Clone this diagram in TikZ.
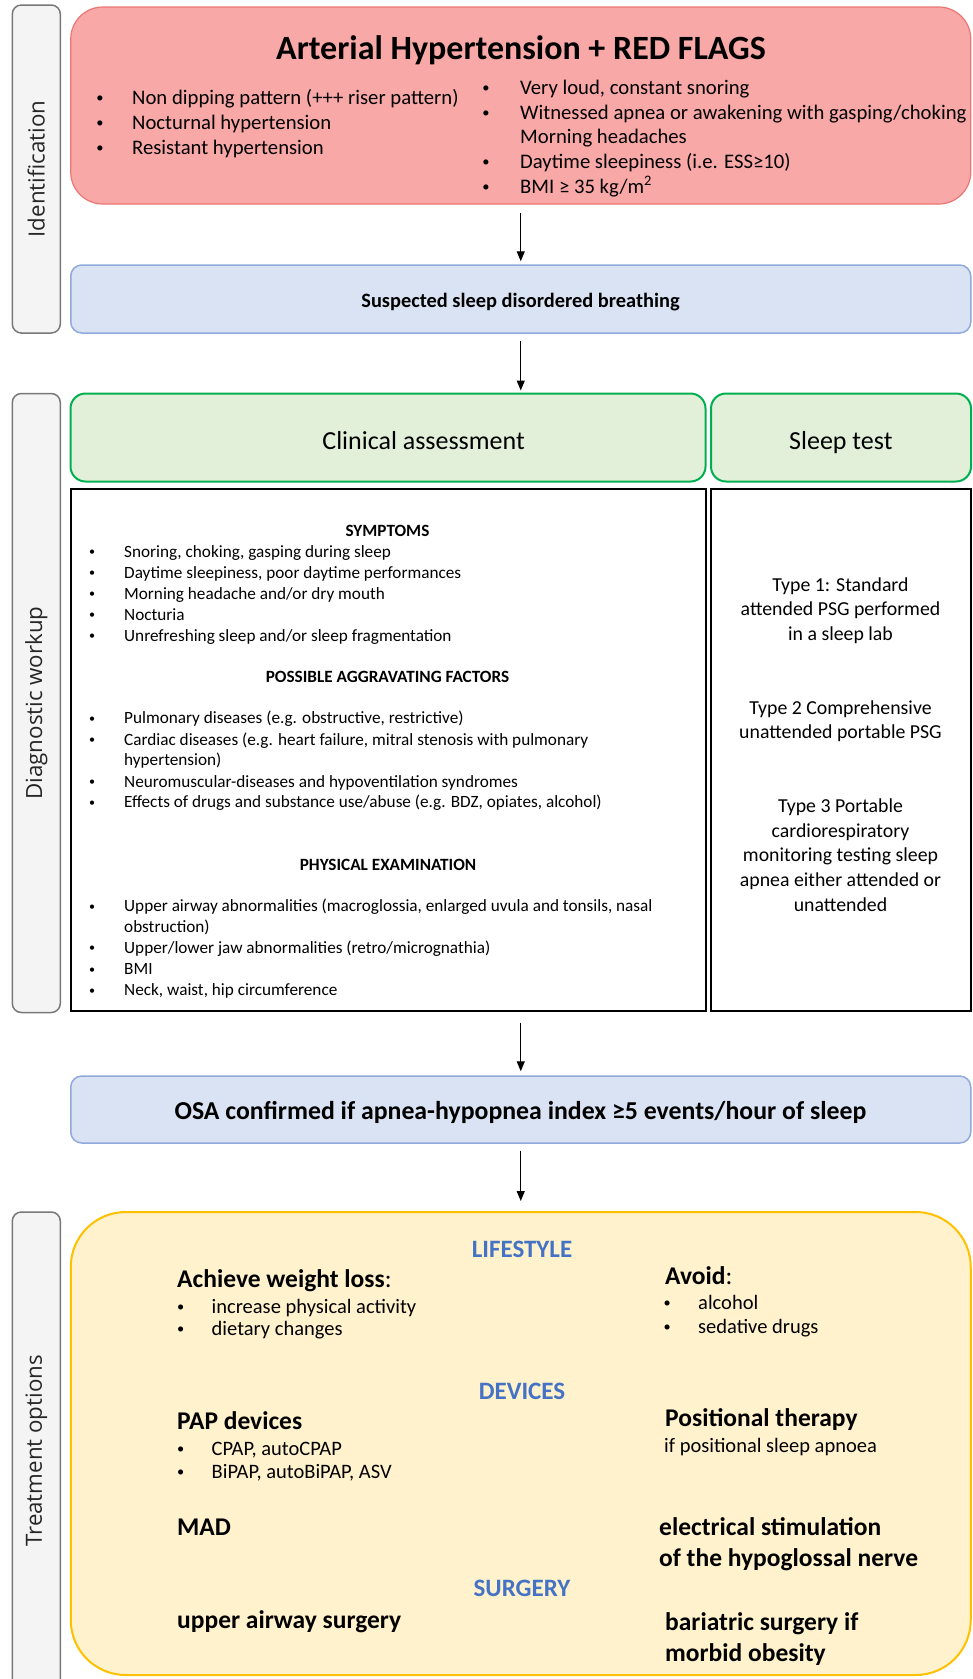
\documentclass[tikz,border=0pt]{standalone}
\usepackage{fontspec}
\setmainfont{Carlito}
\newfontfamily\sidefont{Open Sans}
\usepackage{xcolor}
\usetikzlibrary{arrows.meta,positioning}

\definecolor{flagfill}{RGB}{248,168,166}
\definecolor{flagline}{RGB}{236,118,116}
\definecolor{bluefill}{RGB}{218,227,243}
\definecolor{blueline}{RGB}{143,170,220}
\definecolor{greenfill}{RGB}{226,240,217}
\definecolor{greenline}{RGB}{0,176,80}
\definecolor{yellowfill}{RGB}{255,242,204}
\definecolor{yellowline}{RGB}{255,192,0}
\definecolor{headblue}{RGB}{68,114,196}
\definecolor{sidefill}{RGB}{244,244,244}
\definecolor{sideline}{RGB}{120,120,120}

\newcommand{\fsz}[1]{\fontsize{#1}{#1}\selectfont}
\newcommand{\blt}[1][28.5pt]{\llap{\raisebox{0.08em}{\scalebox{0.7}{\textbullet}}\hspace{#1}}}

\begin{document}
\begin{tikzpicture}[x=1pt, y=-1pt,
    sidebox/.style={draw=sideline, fill=sidefill, line width=1.5pt, rounded corners=9pt, minimum width=48pt},
    sidelabel/.style={rotate=90, inner sep=0pt, font=\sidefont\fsz{22.3}, text=black!85},
    flagbox/.style={draw=flagline, fill=flagfill, line width=1.2pt, rounded corners=32pt},
    bluebox/.style={draw=blueline, fill=bluefill, line width=1.5pt, rounded corners=11pt},
    greenbox/.style={draw=greenline, fill=greenfill, line width=2pt, rounded corners=15pt},
    listbox/.style={draw=black, fill=white, line width=2pt},
    treatbox/.style={draw=yellowline, fill=yellowfill, line width=2pt, rounded corners=55pt},
    flow/.style={-{Triangle[length=10pt,width=8pt]}, line width=1.2pt},
    txt/.style={inner sep=0pt, anchor=base west},
    ctr/.style={inner sep=0pt, anchor=base},
    head/.style={ctr, font=\bfseries\fsz{25}, text=headblue},
    big/.style={txt, font=\bfseries\fsz{25.5}}]

  \useasboundingbox (0,0) rectangle (973,1679);

  % side bars
  \node[sidebox, minimum height=328pt] (idside) at (36.3,169) {};
  \node[sidelabel] (idlabel) at (idside) {Identification};
  \node[sidebox, minimum height=619pt] (dxside) at (36.3,703) {};
  \node[sidelabel] (dxlabel) at (dxside) {Diagnostic workup};
  \node[sidebox, minimum height=478pt] (txside) at (36.3,1451) {};
  \node[sidelabel] (txlabel) at (txside) {Treatment options};

  % main boxes
  \node[flagbox, minimum width=900pt, minimum height=197pt] (flags) at (520.75,105.5) {};
  \node[bluebox, minimum width=900pt, minimum height=68pt] (susp) at (520.75,299) {};
  \node[greenbox, minimum width=635pt, minimum height=88pt] (clinhead) at (388,437.5) {};
  \node[greenbox, minimum width=260pt, minimum height=88pt] (testhead) at (841,437.5) {};
  \node[listbox, minimum width=635pt, minimum height=522pt] (clinbody) at (388,750) {};
  \node[listbox, minimum width=260pt, minimum height=522pt] (testbody) at (841,750) {};
  \node[bluebox, minimum width=900pt, minimum height=67pt] (osa) at (520.75,1109.5) {};
  \node[treatbox, minimum width=900pt, minimum height=463pt] (treat) at (520.75,1443.5) {};

  % arrows
  \draw[flow, shorten <=8pt, shorten >=3pt] (flags.south) -- (susp.north);
  \draw[flow, shorten <=7pt, shorten >=2pt] (susp.south) -- (susp.south |- clinhead.north);
  \draw[flow, shorten <=11pt, shorten >=4pt] (clinbody.south -| osa.south) -- (osa.north);
  \draw[flow, shorten <=7pt, shorten >=10pt] (osa.south) -- (treat.north);

  % red flags
  \node[ctr, font=\bfseries\fsz{34}] (title) at (521,59.5) {Arterial Hypertension + RED FLAGS};
  \foreach \y/\t [count=\i] in {104/{Non dipping pattern (+++ riser pattern)},
      129.5/{Nocturnal hypertension}, 154/{Resistant hypertension}}
    \node[txt, font=\fsz{20.7}] (flagl\i) at (132,\y) {\blt\t};
  \foreach \y/\t [count=\i] in {94/{\blt[30.5pt]Very loud, constant snoring},
      119/{\blt[30.5pt]Witnessed apnea or awakening with gasping/choking},
      143/{Morning headaches}, 168/{\blt[30.5pt]Daytime sleepiness (i.e. ESS≥10)},
      193/{\blt[30.5pt]BMI ≥ 35 kg/m\textsuperscript{2}}}
    \node[txt, font=\fsz{20.7}] (flagr\i) at (520,\y) {\t};

  \node[ctr, font=\bfseries\fsz{20.4}] (susptxt) at (520.5,307) {Suspected sleep disordered breathing};
  \node[ctr, font=\fsz{26}] (clintxt) at (423.6,449) {Clinical assessment};
  \node[ctr, font=\fsz{26}] (testtxt) at (840.8,449) {Sleep test};

  % clinical assessment
  \begin{scope}[every node/.append style={font=\fsz{17.2}}]
    \node[ctr, font=\bfseries\fsz{17.2}] (symhd) at (387.5,536.5) {SYMPTOMS};
    \foreach \y/\t [count=\i] in {557/{Snoring, choking, gasping during sleep},
        578.3/{Daytime sleepiness, poor daytime performances},
        599.3/{Morning headache and/or dry mouth}, 620/{Nocturia},
        641/{Unrefreshing sleep and/or sleep fragmentation}}
      \node[txt] (sym\i) at (124,\y) {\blt[29pt]\t};
    \node[ctr, font=\bfseries\fsz{17.2}] (aghd) at (387.5,682) {POSSIBLE AGGRAVATING FACTORS};
    \foreach \y/\t [count=\i] in {723.5/{\blt[29pt]Pulmonary diseases (e.g. obstructive, restrictive)},
        745/{\blt[29pt]Cardiac diseases (e.g. heart failure, mitral stenosis with pulmonary},
        765.3/{hypertension)},
        787/{\blt[29pt]Neuromuscular-diseases and hypoventilation syndromes},
        807.7/{\blt[29pt]Effects of drugs and substance use/abuse (e.g. BDZ, opiates, alcohol)}}
      \node[txt] (ag\i) at (124,\y) {\t};
    \node[ctr, font=\bfseries\fsz{17.2}] (exhd) at (388,870) {PHYSICAL EXAMINATION};
    \foreach \y/\t [count=\i] in {911.5/{\blt[29pt]Upper airway abnormalities (macroglossia, enlarged uvula and tonsils, nasal},
        932.2/{obstruction)},
        953.2/{\blt[29pt]Upper/lower jaw abnormalities (retro/micrognathia)},
        974.8/{\blt[29pt]BMI}, 995.5/{\blt[29pt]Neck, waist, hip circumference}}
      \node[txt] (ex\i) at (124,\y) {\t};
  \end{scope}

  % sleep tests
  \foreach \y/\t [count=\i] in {591/{Type 1: Standard}, 615.5/{attended PSG performed},
      640/{in a sleep lab}, 714/{Type 2 Comprehensive}, 738.7/{unattended portable PSG},
      812.5/{Type 3 Portable}, 837.2/{cardiorespiratory}, 861.8/{monitoring testing sleep},
      886.5/{apnea either attended or}, 911/{unattended}}
    \node[ctr, font=\fsz{19.8}] (test\i) at (840.5,\y) {\t};

  \node[ctr, font=\bfseries\fsz{25.8}] (osatxt) at (520.5,1119.5) {OSA confirmed if apnea-hypopnea index ≥5 events/hour of sleep};

  % treatment options
  \node[head] (lifehd) at (522,1257.5) {LIFESTYLE};
  \node[big] (weight) at (177,1287) {Achieve weight loss\mdseries:};
  \node[txt, font=\fsz{20.5}] (weight1) at (211.5,1313) {\blt[27.5pt]increase physical activity};
  \node[txt, font=\fsz{20.5}] (weight2) at (211.5,1335) {\blt[27.5pt]dietary changes};
  \node[big] (avoid) at (665,1284) {Avoid\mdseries:};
  \node[txt, font=\fsz{20.5}] (avoid1) at (698,1309) {\blt[27.5pt]alcohol};
  \node[txt, font=\fsz{20.5}] (avoid2) at (698,1333) {\blt[27.5pt]sedative drugs};

  \node[head] (devhd) at (522,1399) {DEVICES};
  \node[big] (pap) at (177,1429) {PAP devices};
  \node[txt, font=\fsz{20.5}] (pap1) at (211.5,1455) {\blt[27.5pt]CPAP, autoCPAP};
  \node[txt, font=\fsz{20.5}] (pap2) at (211.5,1478.3) {\blt[27.5pt]BiPAP, autoBiPAP, ASV};
  \node[big] (posit) at (665,1426.7) {Positional therapy};
  \node[txt, font=\fsz{20.5}] (posit1) at (664,1452) {if positional sleep apnoea};
  \node[big] (mad) at (177,1535.5) {MAD};
  \node[big] (stim1) at (659,1535.5) {electrical stimulation};
  \node[big] (stim2) at (659,1566.5) {of the hypoglossal nerve};

  \node[head] (surghd) at (522,1596) {SURGERY};
  \node[big] (airway) at (177,1628) {upper airway surgery};
  \node[big] (bari1) at (665,1630) {bariatric surgery if};
  \node[big] (bari2) at (665,1661) {morbid obesity};

\end{tikzpicture}
\end{document}
